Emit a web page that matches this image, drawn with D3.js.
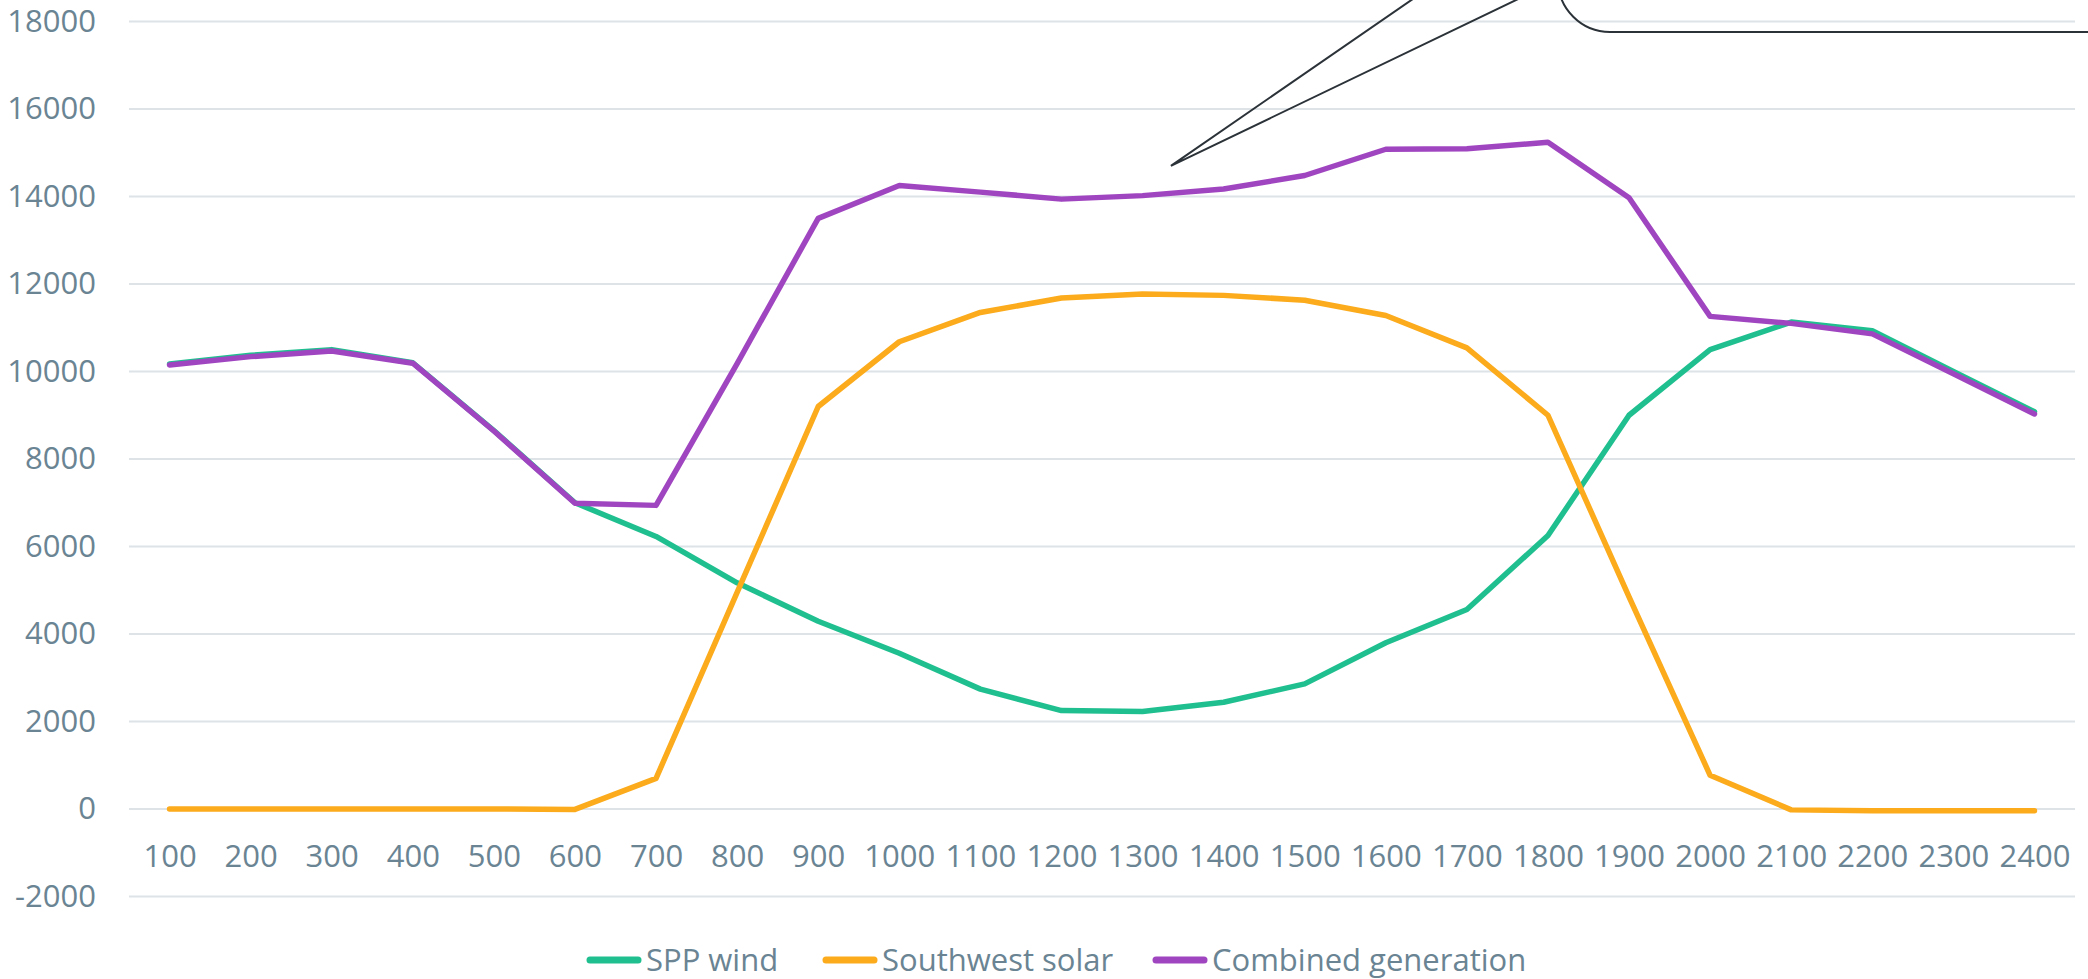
<!DOCTYPE html>
<html>
<head>
<meta charset="utf-8">
<script src="https://cdn.jsdelivr.net/npm/d3@7"></script>
<style>
  html, body { margin: 0; padding: 0; background: #ffffff; }
  svg { display: block; }
  text { font-family: "Open Sans", "Noto Sans", sans-serif; fill: #6a8493; }
</style>
</head>
<body>
<svg id="chart" width="2088" height="979"></svg>
<script>
// ---- data ----
const hours = ["100","200","300","400","500","600","700","800","900","1000","1100","1200",
               "1300","1400","1500","1600","1700","1800","1900","2000","2100","2200","2300","2400"];
const sppWind = [10170, 10370, 10500, 10200, 8650, 7000, 6230, 5170, 4290, 3560, 2740, 2250,
                 2230, 2440, 2860, 3800, 4560, 6250, 9000, 10500, 11130, 10930, 10000, 9080];
const southwestSolar = [0, 0, 0, 0, 0, -10, 700, 4950, 9200, 10680, 11350, 11680,
                        11770, 11740, 11630, 11280, 10540, 9000, 4850, 770, -20, -40, -40, -40];
const combined = [10150, 10340, 10470, 10190, 8640, 6990, 6940, 10180, 13500, 14250, 14100, 13940,
                  14020, 14170, 14480, 15080, 15090, 15240, 13970, 11260, 11100, 10860, 9950, 9030];
const yTicks = [-2000, 0, 2000, 4000, 6000, 8000, 10000, 12000, 14000, 16000, 18000];
const seriesNames = ["SPP wind", "Southwest solar", "Combined generation"];
const seriesColors = ["#20bf8f", "#fbab1c", "#a045c0"];

// ---- layout ----
const svg = d3.select("#chart");
const plotLeft = 129, plotRight = 2075, plotTop = 21.5, plotBottom = 896.5;
const fontPx = 31;

const x = d3.scalePoint().domain(hours).range([plotLeft, plotRight]).padding(0.5);
const y = d3.scaleLinear().domain([-2000, 18000]).range([plotBottom, plotTop]);

// gridlines
svg.append("g").selectAll("line").data(yTicks).join("line")
  .attr("x1", plotLeft).attr("x2", plotRight)
  .attr("y1", d => y(d)).attr("y2", d => y(d))
  .attr("stroke", "#dde3e7").attr("stroke-width", 2);

// y axis labels
const yAxis = d3.axisLeft(y).tickValues(yTicks).tickSize(0).tickPadding(0).tickFormat(d => String(d));
const gy = svg.append("g").attr("transform", "translate(96,0)").call(yAxis);
gy.select(".domain").remove();
gy.selectAll("text").attr("font-size", fontPx).attr("fill", "#6a8493")
  .style("font-family", "'Open Sans', 'Noto Sans', sans-serif");

// x axis labels (placed between 0 and -2000)
const xAxis = d3.axisBottom(x).tickSize(0).tickPadding(0);
const gx = svg.append("g").attr("transform", "translate(0,845)").call(xAxis);
gx.select(".domain").remove();
gx.selectAll("text").attr("font-size", fontPx).attr("fill", "#6a8493")
  .style("font-family", "'Open Sans', 'Noto Sans', sans-serif");

// lines
const line = d3.line().x((d, i) => x(hours[i])).y(d => y(d));
const allSeries = [sppWind, southwestSolar, combined];
svg.append("g").selectAll("path").data(allSeries).join("path")
  .attr("d", d => line(d))
  .attr("fill", "none")
  .attr("stroke", (d, i) => seriesColors[i])
  .attr("stroke-width", 5.5)
  .attr("stroke-linejoin", "round")
  .attr("stroke-linecap", "round");

// callout annotation (cropped at top of picture)
const step = x.step();
const tipX = x("1300") + 0.35 * step;
const tipY = y(14700);
svg.append("path")
  .attr("d", `M${tipX + 255},${-10} L${tipX},${tipY} L${tipX + 366},${-10}`)
  .attr("fill", "none").attr("stroke", "#2b3238").attr("stroke-width", 2)
  .attr("stroke-linejoin", "miter");
svg.append("path")
  .attr("d", `M1558,-60 L1558,-20 A52,52 0 0 0 1610,32 L2100,32`)
  .attr("fill", "none").attr("stroke", "#2b3238").attr("stroke-width", 2);

// legend
const legendItems = [
  { name: seriesNames[0], color: seriesColors[0], x: 587 },
  { name: seriesNames[1], color: seriesColors[1], x: 823 },
  { name: seriesNames[2], color: seriesColors[2], x: 1153 }
];
const lg = svg.append("g").selectAll("g").data(legendItems).join("g")
  .attr("transform", d => `translate(${d.x},960)`);
lg.append("line").attr("x1", 3).attr("x2", 51).attr("y1", 0).attr("y2", 0)
  .attr("stroke", d => d.color).attr("stroke-width", 7).attr("stroke-linecap", "round");
lg.append("text").attr("x", 59).attr("y", 0).attr("dy", "0.35em")
  .attr("font-size", fontPx).text(d => d.name);
</script>
</body>
</html>
